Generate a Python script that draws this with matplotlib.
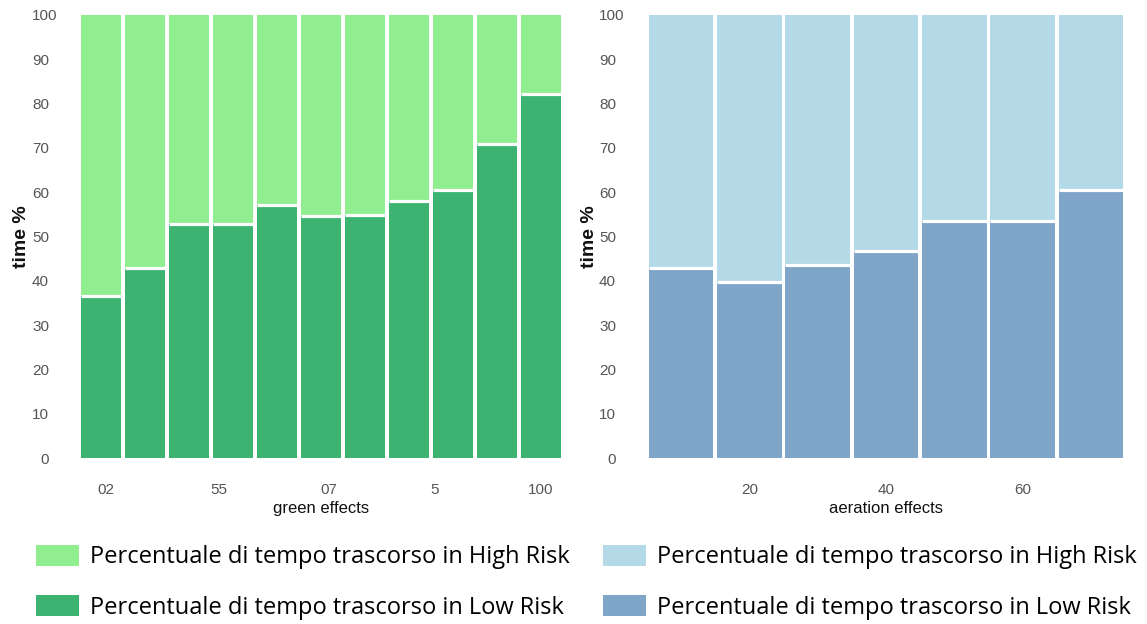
import matplotlib
matplotlib.use("Agg")
import matplotlib.pyplot as plt
import matplotlib.transforms as mtransforms
import numpy as np
from matplotlib.patches import Patch

plt.rcParams['font.family'] = ['Liberation Sans', 'DejaVu Sans']

# Green effects: share of time in low risk (remainder is high risk)
green_low = [36.6, 42.9, 52.9, 52.9, 57.1, 54.6, 54.8, 58.0, 60.4, 70.9, 82.1]
green_ticks = [0.1, 2.68, 5.18, 7.59, 10.0]
green_tick_labels = ['02', '55', '07', '5', '100']

# Aeration effects
aer_low = [42.8, 39.7, 43.6, 46.7, 53.6, 53.6, 60.6]
aer_ticks = [1, 3, 5]
aer_tick_labels = ['20', '40', '60']

yticks = list(range(0, 101, 10))

label_high = 'Percentuale di tempo trascorso in High Risk'
label_low = 'Percentuale di tempo trascorso in Low Risk'

W, H = 1147, 624
fig = plt.figure(figsize=(W / 100, H / 100), dpi=100)

def axes_px(x0, x1, y0, y1):
    return fig.add_axes([x0 / W, 1 - y1 / H, (x1 - x0) / W, (y1 - y0) / H])

def draw(ax, low, c_high, c_low, ticks, tick_labels, xlabel, ytick_pad,
         width, label_x):
    low = np.asarray(low)
    high = 100 - low
    x = np.arange(len(low))
    ax.bar(x, low, width=width, color=c_low, linewidth=0)
    ax.bar(x, high, bottom=low, width=width, color=c_high, linewidth=0)
    # thin white separator between the two stacked segments
    ax.hlines(low, x - width / 2, x + width / 2, color='white', linewidth=2.3)
    ax.set_xlim(-0.5, len(low) - 0.5)
    ax.set_ylim(0, 100)
    ax.set_yticks(yticks)
    ax.set_xticks(ticks)
    ax.set_xticklabels(tick_labels)
    for s in ax.spines.values():
        s.set_visible(False)
    ax.tick_params(axis='both', length=0, colors='#555555', labelsize=11)
    ax.tick_params(axis='x', pad=18)
    ax.tick_params(axis='y', pad=ytick_pad)
    ax.set_xlabel(xlabel, fontsize=12, color='#111111', labelpad=3)
    ax.set_ylabel('time %', fontsize=14, fontweight='bold', color='#111111')
    ax.yaxis.set_label_coords(label_x, 0.5)
    # the top label "100" sits a little further right than the others
    top = ax.get_yticklabels()[-1]
    top.set_transform(top.get_transform() +
                      mtransforms.ScaledTranslation(8 / 100, 0, fig.dpi_scale_trans))

ax1 = axes_px(79, 563, 15, 458)
draw(ax1, green_low, '#90ee90', '#3cb371', green_ticks, green_tick_labels,
     'green effects', 21.6, 40 / 44, (30 - 79) / 484)

ax2 = axes_px(647, 1125, 15, 458)
draw(ax2, aer_low, '#b4dae8', '#7fa5c8', aer_ticks, aer_tick_labels,
     'aeration effects', 22.3, 64.5 / 68.3, (598 - 647) / 478)

leg_font = {'family': 'Open Sans', 'size': 17}

def legend(x_px, c_high, c_low):
    handles = [Patch(facecolor=c_high), Patch(facecolor=c_low)]
    fig.legend(handles, [label_high, label_low], loc='upper left',
               bbox_to_anchor=(x_px / W, 1 - 545 / H), frameon=False,
               prop=leg_font, handlelength=1.82, handleheight=0.97,
               handletextpad=0.47, labelspacing=1.1, borderpad=0,
               borderaxespad=0)

legend(36, '#90ee90', '#3cb371')
legend(603, '#b4dae8', '#7fa5c8')

fig.savefig('out.png', dpi=100)
